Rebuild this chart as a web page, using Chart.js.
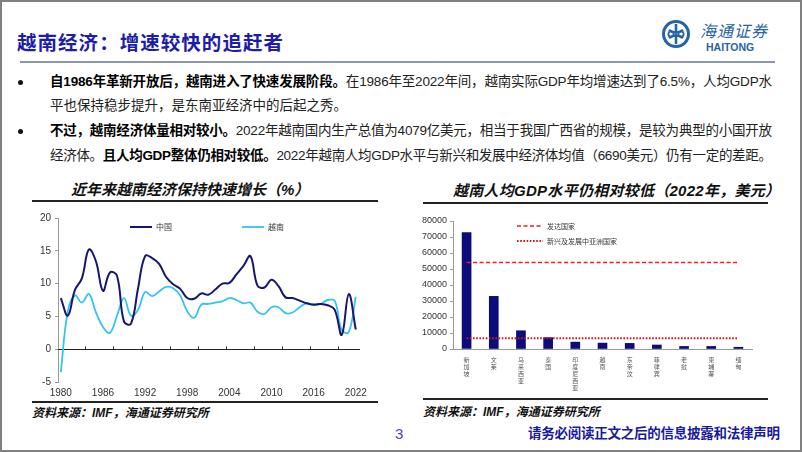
<!DOCTYPE html>
<html>
<head>
<meta charset="utf-8">
<script src="https://cdn.jsdelivr.net/npm/chart.js@4.4.0/dist/chart.umd.min.js"></script>
<style>
  body { margin: 0; background: #fff; }
  #page { position: relative; width: 802px; height: 452px; overflow: hidden; background: #fff;
          font-family: "Liberation Sans", Arial, "Noto Sans CJK SC", sans-serif; color: #111; }
  #frame { position: absolute; left: 0; top: 0; width: 802px; height: 452px; box-sizing: border-box;
           border: 2px solid #808080; pointer-events: none; }
  .abs { position: absolute; white-space: nowrap; }
  .rule { position: absolute; }
  .dot { position: absolute; width: 5px; height: 5px; border-radius: 50%; background: #111; }
  .body { font-size: 13.5px; line-height: 18px; color: #222; }
  .body b { color: #000; }
  .ctitle { font-size: 15px; line-height: 18px; font-weight: bold; font-style: italic; color: #111; }
  .src { font-size: 12px; line-height: 16px; font-weight: bold; font-style: italic; color: #111; }
  canvas { position: absolute; }
</style>
</head>
<body>
<div id="page">
  <!-- header -->
  <div class="abs fit" data-w="266" style="left:17px;top:30px;font-size:19.5px;line-height:24px;font-weight:bold;color:#1d1dab;font-family:'Noto Sans CJK SC',sans-serif;">越南经济：增速较快的追赶者</div>
  <svg class="abs" style="left:660px;top:18px" width="32" height="32" viewBox="0 0 32 32">
    <circle cx="16" cy="16" r="12.5" fill="none" stroke="#2563a6" stroke-width="3"/>
    <path d="M16 6 V26 M9 12 Q16 17 23 12 M9 20 Q16 15 23 20" fill="none" stroke="#2563a6" stroke-width="2.6"/>
    <circle cx="11" cy="16" r="2.6" fill="none" stroke="#2563a6" stroke-width="1.8"/>
    <circle cx="21" cy="16" r="2.6" fill="none" stroke="#2563a6" stroke-width="1.8"/>
  </svg>
  <div class="abs" style="left:700px;top:23px;font-size:16px;line-height:18px;font-style:italic;color:#2563a6;letter-spacing:1px;">海通证券</div>
  <div class="abs" style="left:706px;top:41px;font-size:10.5px;line-height:12px;font-weight:bold;color:#2563a6;">HAITONG</div>
  <div class="rule" style="left:20px;top:61px;width:755px;height:2px;background:#8a98ae;"></div>

  <!-- bullets -->
  <div class="dot" style="left:18px;top:80px;"></div>
  <div class="dot" style="left:18px;top:129px;"></div>
  <div class="abs body fit" data-w="722" style="left:50px;top:73px;"><b>自1986年革新开放后，越南进入了快速发展阶段。</b>在1986年至2022年间，越南实际GDP年均增速达到了6.5%，人均GDP水</div>
  <div class="abs body" style="left:50px;top:97px;">平也保持稳步提升，是东南亚经济中的后起之秀。</div>
  <div class="abs body fit" data-w="722" style="left:50px;top:122px;"><b>不过，越南经济体量相对较小。</b>2022年越南国内生产总值为4079亿美元，相当于我国广西省的规模，是较为典型的小国开放</div>
  <div class="abs body fit" data-w="722" style="left:50px;top:147px;">经济体。<b>且人均GDP整体仍相对较低。</b>2022年越南人均GDP水平与新兴和发展中经济体均值（6690美元）仍有一定的差距。</div>

  <!-- chart titles and rules -->
  <div class="abs ctitle" style="left:71px;top:181px;">近年来越南经济保持快速增长（%）</div>
  <div class="abs ctitle fit" data-w="327" style="left:453px;top:182px;">越南人均GDP水平仍相对较低（2022年，美元）</div>
  <div class="rule" style="left:32px;top:200px;width:346px;height:1.5px;background:#222;"></div>
  <div class="rule" style="left:423px;top:202px;width:345px;height:1.5px;background:#222;"></div>

  <canvas id="growthChart" width="358" height="196" style="left:22px;top:206px;"></canvas>
  <canvas id="gdpChart" width="355" height="194" style="left:420px;top:206px;"></canvas>

  <div class="rule" style="left:32px;top:401px;width:346px;height:1.5px;background:#222;"></div>
  <div class="rule" style="left:423px;top:398px;width:345px;height:1.5px;background:#222;"></div>
  <div class="abs src" style="left:32px;top:405px;">资料来源：IMF，海通证券研究所</div>
  <div class="abs src" style="left:423px;top:404px;">资料来源：IMF，海通证券研究所</div>

  <!-- footer -->
  <div class="abs" style="left:395px;top:425px;font-size:15px;line-height:18px;color:#5b3fa6;">3</div>
  <div class="abs fit" data-w="252" style="left:528px;top:425px;font-size:13.5px;line-height:18px;font-weight:bold;color:#1a1a9e;">请务必阅读正文之后的信息披露和法律声明</div>

  <div id="frame"></div>
</div>

<script>
// Left chart: real GDP growth (%)
var years = [1980, 1981, 1982, 1983, 1984, 1985, 1986, 1987, 1988, 1989,
             1990, 1991, 1992, 1993, 1994, 1995, 1996, 1997, 1998, 1999,
             2000, 2001, 2002, 2003, 2004, 2005, 2006, 2007, 2008, 2009,
             2010, 2011, 2012, 2013, 2014, 2015, 2016, 2017, 2018, 2019,
             2020, 2021, 2022];
var chinaGrowth = [7.8, 5.1, 9.0, 10.8, 15.2, 13.4, 8.9, 11.7, 11.2, 4.2,
                   3.9, 9.3, 14.2, 13.9, 13.0, 11.0, 9.9, 9.2, 7.8, 7.7,
                   8.5, 8.3, 9.1, 10.0, 10.1, 11.4, 12.7, 14.2, 9.7, 9.4,
                   10.6, 9.6, 7.9, 7.8, 7.4, 7.0, 6.8, 6.9, 6.7, 6.0,
                   2.2, 8.4, 3.0];
var vietnamGrowth = [-3.5, 5.8, 8.2, 7.1, 8.4, 5.6, 3.4, 2.5, 5.1, 7.8,
                     5.1, 6.0, 8.7, 8.1, 8.8, 9.5, 9.3, 8.2, 5.8, 4.8,
                     6.8, 6.9, 7.1, 7.3, 7.8, 7.5, 7.0, 7.1, 5.7, 5.4,
                     6.4, 6.4, 5.5, 5.6, 6.4, 7.0, 6.7, 6.9, 7.5, 7.4,
                     2.9, 2.6, 8.0];
var yearTicks = [1980, 1986, 1992, 1998, 2004, 2010, 2016, 2022];
var growthTicks = [-5, 0, 5, 10, 15, 20];

// Right chart: GDP per capita 2022 (USD)
var countries = ['新加坡', '文莱', '马来西亚', '泰国', '印度尼西亚', '越南', '东帝汶', '菲律宾', '老挝', '柬埔寨', '缅甸'];
var gdpPerCapita = [72800, 32900, 11400, 7100, 4300, 3700, 3500, 2500, 1600, 1600, 1100];
var advancedAvg = 54000;
var emergingAsiaAvg = 6690;

// stretch a text line to a given width
document.querySelectorAll('.fit').forEach(function (el) {
    var target = +el.dataset.w;
    var n = el.textContent.length;
    var w = el.getBoundingClientRect().width;
    el.style.letterSpacing = ((target - w) / (n - 1)).toFixed(3) + 'px';
});

Chart.defaults.font.family = '"Liberation Sans", Arial, "Noto Sans CJK SC", sans-serif';
Chart.defaults.animation = false;

// legend drawn inside the plot, like the excel one
var inlineLegend = {
    id: 'inlineLegend',
    afterDraw: function (chart, args, opts) {
        var ctx = chart.ctx;
        ctx.save();
        opts.items.forEach(function (it) {
            var ds = chart.data.datasets[it.index];
            ctx.strokeStyle = ds.borderColor;
            ctx.lineWidth = ds.borderWidth;
            ctx.setLineDash(ds.borderDash || []);
            ctx.beginPath();
            ctx.moveTo(it.x, it.y);
            ctx.lineTo(it.x + opts.lineLen, it.y);
            ctx.stroke();
            ctx.setLineDash([]);
            ctx.fillStyle = '#333';
            ctx.font = opts.font;
            ctx.textBaseline = 'middle';
            ctx.fillText(ds.label, it.x + opts.lineLen + 4, it.y);
        });
        ctx.restore();
    }
};

// horizontal axis line at y = 0 with small tick marks
var zeroAxis = {
    id: 'zeroAxis',
    beforeDatasetsDraw: function (chart) {
        var ctx = chart.ctx, x = chart.scales.x, y = chart.scales.y, area = chart.chartArea;
        var y0 = Math.round(y.getPixelForValue(0)) + 0.5;
        ctx.save();
        ctx.strokeStyle = '#222';
        ctx.lineWidth = 1;
        ctx.beginPath();
        ctx.moveTo(area.left, y0);
        ctx.lineTo(area.right, y0);
        for (var v = 1983.5; v < 2022; v += 4) {
            var px = Math.round(x.getPixelForValue(v)) + 0.5;
            ctx.moveTo(px, y0);
            ctx.lineTo(px, y0 - 3);
        }
        ctx.stroke();
        ctx.restore();
    }
};

// Growth chart
var growthCtx = document.getElementById('growthChart').getContext('2d');
var growthChart = new Chart(growthCtx, {
    type: 'line',
    data: {
        datasets: [{
            label: '中国',
            data: years.map(function (yr, i) { return { x: yr, y: chinaGrowth[i] }; }),
            borderColor: '#16166e',
            borderWidth: 2,
            pointRadius: 0,
            tension: 0.4
        }, {
            label: '越南',
            data: years.map(function (yr, i) { return { x: yr, y: vietnamGrowth[i] }; }),
            borderColor: '#33c4f0',
            borderWidth: 1.8,
            pointRadius: 0,
            tension: 0.4
        }]
    },
    options: {
        responsive: false,
        devicePixelRatio: 1,
        layout: { padding: { top: 12, right: 20, left: 0, bottom: 0 } },
        plugins: {
            legend: { display: false },
            tooltip: { enabled: false },
            inlineLegend: {
                lineLen: 22, font: '8px "Noto Sans CJK SC", sans-serif',
                items: [{ index: 0, x: 108, y: 21 }, { index: 1, x: 220, y: 21 }]
            }
        },
        scales: {
            x: {
                type: 'linear',
                min: 1979.6,
                max: 2022.6,
                afterBuildTicks: function (s) { s.ticks = yearTicks.map(function (v) { return { value: v }; }); },
                afterFit: function (s) { s.height = 20; },
                grid: { display: false, drawTicks: false },
                border: { display: false },
                ticks: { font: { size: 10 }, color: '#333', padding: 5, maxRotation: 0,
                         callback: function (v) { return String(v); } }
            },
            y: {
                min: -5,
                max: 20,
                afterBuildTicks: function (s) { s.ticks = growthTicks.map(function (v) { return { value: v }; }); },
                afterFit: function (s) { s.width = 36; },
                grid: { drawOnChartArea: false, tickLength: 3, color: '#999' },
                border: { color: '#999' },
                ticks: { font: { size: 10 }, color: '#333', padding: 4 }
            }
        }
    },
    plugins: [zeroAxis, inlineLegend]
});

// GDP per capita chart
var gdpCtx = document.getElementById('gdpChart').getContext('2d');
var gdpChart = new Chart(gdpCtx, {
    type: 'bar',
    data: {
        labels: countries.map(function (c) { return c.split(''); }),
        datasets: [{
            type: 'line',
            label: '发达国家',
            data: countries.map(function () { return advancedAvg; }),
            borderColor: '#ee1c24',
            borderWidth: 1.5,
            borderDash: [4, 2.5],
            pointRadius: 0,
            order: 1
        }, {
            type: 'line',
            label: '新兴及发展中亚洲国家',
            data: countries.map(function () { return emergingAsiaAvg; }),
            borderColor: '#d8141c',
            borderWidth: 2,
            borderDash: [1.6, 1.6],
            pointRadius: 0,
            order: 1
        }, {
            label: '人均GDP',
            data: gdpPerCapita,
            backgroundColor: '#0b0b7a',
            barThickness: 9,
            order: 2
        }]
    },
    options: {
        responsive: false,
        devicePixelRatio: 1,
        layout: { padding: { top: 15, right: 23, left: 0, bottom: 0 } },
        plugins: {
            legend: { display: false },
            tooltip: { enabled: false },
            inlineLegend: {
                lineLen: 26, font: '7px "Noto Sans CJK SC", sans-serif',
                items: [{ index: 0, x: 97, y: 20 }, { index: 1, x: 97, y: 35 }]
            }
        },
        scales: {
            x: {
                afterFit: function (s) { s.height = 51; },
                grid: { display: false, drawTicks: false },
                border: { color: '#999' },
                ticks: { font: { size: 6, family: '"Noto Sans CJK SC", sans-serif', lineHeight: '7px' },
                         color: '#555', padding: 7, maxRotation: 0, autoSkip: false }
            },
            y: {
                min: 0,
                max: 80000,
                ticks: { stepSize: 10000, font: { size: 9 }, color: '#333', padding: 3,
                         callback: function (v) { return String(v); } },
                afterFit: function (s) { s.width = 33; },
                grid: { drawOnChartArea: false, tickLength: 3, color: '#999' },
                border: { color: '#999' }
            }
        }
    },
    plugins: [inlineLegend]
});
</script>
</body>
</html>
